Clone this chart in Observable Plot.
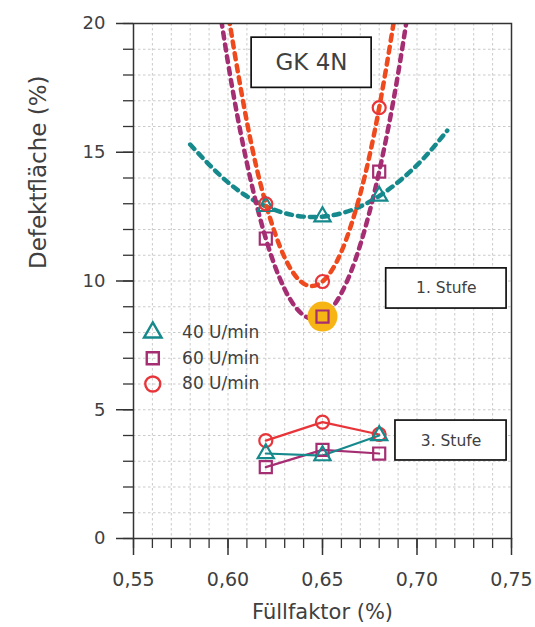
<!DOCTYPE html>
<html><head><meta charset="utf-8">
<script src="https://cdn.jsdelivr.net/npm/d3@7"></script>
<script src="https://cdn.jsdelivr.net/npm/@observablehq/plot@0.6"></script>
<style>body{margin:0;background:#fff} #chart svg{display:block}</style>
</head><body><div id="chart"></div>
<script>
// Füllfaktor values of the measurements
const fuellfaktor = [0.62, 0.65, 0.68];
// 1. Stufe (Defektfläche %)
const stufe1_40 = [12.9, 12.5, 13.3];
const stufe1_60 = [11.65, 8.62, 14.25];
const stufe1_80 = [13.0, 9.98, 16.73];
// 3. Stufe (Defektfläche %)
const stufe3_40 = [3.3, 3.22, 4.0];
const stufe3_60 = [2.77, 3.44, 3.3];
const stufe3_80 = [3.8, 4.52, 4.04];
// dotted trend curves of the 1. Stufe
const trendX_40 = [0.58, 0.60, 0.62, 0.64, 0.66, 0.68, 0.70, 0.716];
const trendY_40 = [15.3, 13.83, 12.9, 12.5, 12.63, 13.3, 14.5, 15.84];
const trendX_60 = [0.59, 0.60, 0.61, 0.62, 0.63, 0.64, 0.65, 0.66, 0.67, 0.68, 0.69, 0.70];
const trendY_60 = [23.34, 18.48, 14.58, 11.65, 9.68, 8.67, 8.62, 9.53, 11.41, 14.25, 18.05, 22.82];
const trendX_80 = [0.595, 0.60, 0.61, 0.62, 0.63, 0.64, 0.65, 0.66, 0.67, 0.68, 0.69, 0.695];
const trendY_80 = [22.98, 20.44, 16.18, 13.0, 10.91, 9.90, 9.98, 11.14, 13.39, 16.73, 21.15, 23.77];
// labels
const seriesLabels = ["40 U/min", "60 U/min", "80 U/min"];
const xTicks = [0.55, 0.60, 0.65, 0.70, 0.75];
const xTickLabels = ["0,55", "0,60", "0,65", "0,70", "0,75"];
const yTicks = [0, 5, 10, 15, 20];
const yTickLabels = ["0", "5", "10", "15", "20"];
const titleText = "GK 4N";
const stufeLabels = ["1. Stufe", "3. Stufe"];
const xLabel = "Füllfaktor (%)";
const yLabel = "Defektfläche (%)";

const C40 = "#15898c", C60 = "#a52d72", C80 = "#e8353a", C80t = "#ee4a1e", GOLD = "#f6b514";
const INK = "#404040";
const FONT = "DejaVu Sans";

const pts = (xs, ys) => xs.map((x, i) => ({x, y: ys[i]}));
const xMinor = d3.range(55, 76).map(d => d / 100);
const yMinor = d3.range(0, 21);
const xGrid = d3.range(56, 75).map(d => d / 100);
const yGrid = d3.range(1, 20);

const symbols = ["triangle", "square", "circle"];
const colors = [C40, C60, C80];
const radii = [6, 6.8, 6.5];
const stage1 = [stufe1_40, stufe1_60, stufe1_80];
const stage3 = [stufe3_40, stufe3_60, stufe3_80];
const trends = [[trendX_40, trendY_40, C40], [trendX_60, trendY_60, C60], [trendX_80, trendY_80, C80t]];

const minIdx = d3.minIndex(stufe1_60);
const legendRows = seriesLabels.map((label, i) => ({label, i, y: 8 - i}));

const boxes = [
  {x1: 0.6125, x2: 0.676, y1: 17.5, y2: 19.45, tx: 0.6442, ty: 18.47, text: titleText, fs: 23},
  {x1: 0.6837, x2: 0.7474, y1: 8.93, y2: 10.49, tx: 0.7155, ty: 9.71, text: stufeLabels[0], fs: 15.5},
  {x1: 0.6886, x2: 0.7474, y1: 3.03, y2: 4.58, tx: 0.718, ty: 3.8, text: stufeLabels[1], fs: 15.5}
];

const marks = [
  Plot.ruleX(xGrid, {stroke: "#c4c4c4", strokeWidth: 0.9, strokeDasharray: "2.5,2.5"}),
  Plot.ruleY(yGrid, {stroke: "#c4c4c4", strokeWidth: 0.9, strokeDasharray: "2.5,2.5"}),
  ...trends.map(([xs, ys, c]) => Plot.line(pts(xs, ys), {x: "x", y: "y", stroke: c, strokeWidth: 4.5, strokeDasharray: "6,6", curve: "natural", clip: true})),
  Plot.dot([{x: fuellfaktor[minIdx], y: stufe1_60[minIdx]}], {x: "x", y: "y", r: 15, fill: GOLD, stroke: "none"}),
  ...stage1.map((ys, i) => Plot.dot(pts(fuellfaktor, ys), {x: "x", y: "y", symbol: symbols[i], r: radii[i], stroke: colors[i], strokeWidth: 2.2, fill: "none"})),
  ...[2, 1, 0].map(i => Plot.line(pts(fuellfaktor, stage3[i]), {x: "x", y: "y", stroke: colors[i], strokeWidth: 2.2})),
  ...[2, 1, 0].map(i => Plot.dot(pts(fuellfaktor, stage3[i]), {x: "x", y: "y", symbol: symbols[i], r: radii[i], stroke: colors[i], strokeWidth: 2.2, fill: "none"})),
  ...legendRows.map(d => Plot.dot([d], {x: () => 0.5602, y: "y", symbol: symbols[d.i], r: [6.5, 6.8, 7.5][d.i], stroke: colors[d.i], strokeWidth: 2.4, fill: "none"})),
  Plot.text(legendRows, {x: () => 0.5757, y: "y", text: "label", textAnchor: "start", fontSize: 17, fill: INK, fontFamily: FONT}),
  Plot.rect(boxes, {x1: "x1", x2: "x2", y1: "y1", y2: "y2", fill: "white", stroke: "#111", strokeWidth: 1.7}),
  ...boxes.map(b => Plot.text([b], {x: "tx", y: "ty", text: "text", fontSize: b.fs, fill: INK, fontFamily: FONT})),
  Plot.frame({stroke: "#333", strokeWidth: 1.5}),
  Plot.axisX({ticks: xMinor, tickSize: 10, tickFormat: () => "", label: null, stroke: "#333", strokeWidth: 1.3}),
  Plot.axisX({ticks: xTicks, tickSize: 17, tickPadding: 17, tickFormat: d => xTickLabels[xTicks.indexOf(d)], label: null, fontSize: 19, fill: INK, stroke: "#333", strokeWidth: 1.5, fontFamily: FONT}),
  Plot.axisY({ticks: yMinor, tickSize: 10, tickFormat: () => "", label: null, stroke: "#333", strokeWidth: 1.3}),
  Plot.axisY({ticks: yTicks, tickSize: 17, tickPadding: 11, tickFormat: d => yTickLabels[yTicks.indexOf(d)], label: null, fontSize: 18, fill: INK, stroke: "#333", strokeWidth: 1.5, fontFamily: FONT}),
  Plot.text([xLabel], {frameAnchor: "bottom", dy: 74, lineAnchor: "middle", fontSize: 21, fill: INK, fontFamily: FONT}),
  Plot.text([yLabel], {frameAnchor: "left", rotate: -90, dx: -95, dy: -12, fontSize: 23, fill: INK, fontFamily: FONT})
];

const chart = Plot.plot({
  width: 535, height: 627,
  marginLeft: 133, marginRight: 24, marginTop: 23, marginBottom: 89,
  x: {domain: [0.55, 0.75]},
  y: {domain: [0, 20]},
  style: {fontFamily: FONT, background: "white"},
  marks
});
document.getElementById("chart").appendChild(chart);
</script>
</body></html>
